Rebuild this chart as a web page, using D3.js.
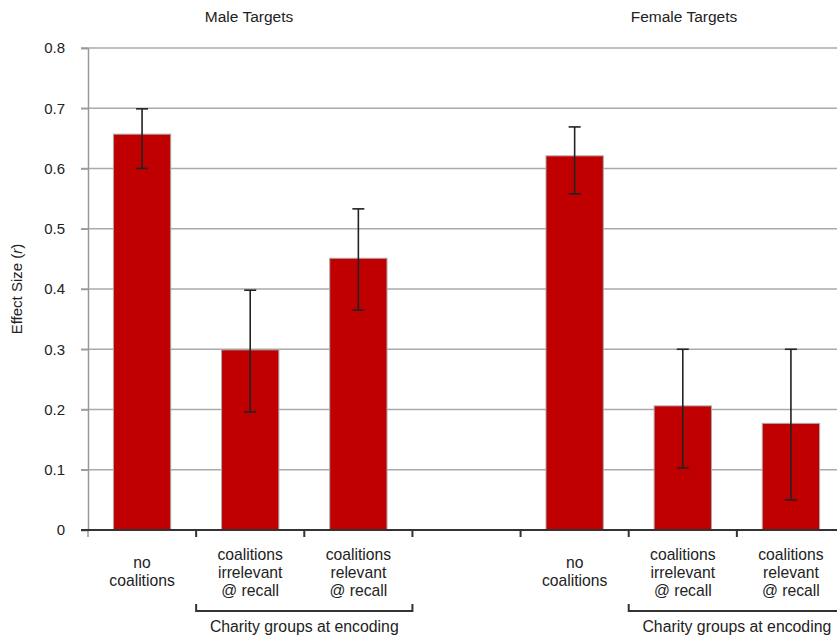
<!DOCTYPE html>
<html><head><meta charset="utf-8">
<script src="https://cdn.jsdelivr.net/npm/d3@7"></script>
<style>body{margin:0;background:#fff}svg{display:block}text{font-family:"Liberation Sans",Arial,sans-serif;fill:#222}</style>
</head><body>
<svg id="c" width="837" height="638"></svg>
<script>
// data
const slots = ["m0","m1","m2","gap","f0","f1","f2"];
const panels = ["Male Targets","Female Targets"];
const conditionLabels = [["no","coalitions"],["coalitions","irrelevant","@ recall"],["coalitions","relevant","@ recall"]];
const maleValues = [0.657, 0.299, 0.451];
const maleLow = [0.600, 0.196, 0.365];
const maleHigh = [0.699, 0.398, 0.533];
const femaleValues = [0.621, 0.206, 0.177];
const femaleLow = [0.558, 0.103, 0.050];
const femaleHigh = [0.669, 0.300, 0.300];
const yTicks = [0, 0.1, 0.2, 0.3, 0.4, 0.5, 0.6, 0.7, 0.8];
const groupLabel = "Charity groups at encoding";

const rows = [];
["m","f"].forEach((g,gi)=>{
  const v = gi===0?maleValues:femaleValues, lo = gi===0?maleLow:femaleLow, hi = gi===0?maleHigh:femaleHigh;
  v.forEach((d,i)=>rows.push({slot:g+i, value:d, lo:lo[i], hi:hi[i], label:conditionLabels[i]}));
});

const svg = d3.select("#c");
const x = d3.scaleBand().domain(slots).range([88, 845]).paddingInner(0.47).paddingOuter(0.235);
const y = d3.scaleLinear().domain([0, 0.8]).range([530, 48]);
const step = x.step();
const left = s => x(s) - x.paddingInner()*step/2;
const right = s => left(s) + step;

// gridlines
svg.append("g").selectAll("line").data(yTicks.filter(d=>d>0)).join("line")
  .attr("x1",81).attr("x2",845).attr("y1",d=>y(d)).attr("y2",d=>y(d))
  .attr("stroke","#aaa").attr("stroke-width",1.5);

// y axis
const ya = svg.append("g").attr("transform","translate(88,0)")
  .call(d3.axisLeft(y).tickValues(yTicks).tickFormat(d=>d===0?"0":d3.format(".1f")(d)).tickSize(7).tickPadding(16));
ya.select(".domain").attr("stroke","#999").attr("stroke-width",1.5);
ya.selectAll(".tick line").attr("stroke","#999").attr("stroke-width",1.5);
ya.selectAll(".tick text").attr("font-size",15).attr("font-family","Liberation Sans, Arial, sans-serif").attr("fill","#222");
svg.append("line").attr("x1",88).attr("x2",88).attr("y1",530).attr("y2",537).attr("stroke","#999").attr("stroke-width",1.5);

// bars
svg.append("g").selectAll("rect").data(rows).join("rect")
  .attr("x",d=>x(d.slot)).attr("width",x.bandwidth())
  .attr("y",d=>y(d.value)).attr("height",d=>y(0)-y(d.value))
  .attr("fill","#c00000").attr("stroke","#aaa").attr("stroke-width",1);

// error bars
const eb = svg.append("g").attr("stroke","#222").attr("stroke-width",1.6);
rows.forEach(d=>{
  const cx = x(d.slot)+x.bandwidth()/2;
  eb.append("line").attr("x1",cx).attr("x2",cx).attr("y1",y(d.hi)).attr("y2",y(d.lo));
  eb.append("line").attr("x1",cx-6).attr("x2",cx+6).attr("y1",y(d.hi)).attr("y2",y(d.hi));
  eb.append("line").attr("x1",cx-6).attr("x2",cx+6).attr("y1",y(d.lo)).attr("y2",y(d.lo));
});

// x axis
svg.append("line").attr("x1",81).attr("x2",845).attr("y1",530).attr("y2",530).attr("stroke","#333").attr("stroke-width",2);
svg.append("g").selectAll("line").data(slots.slice(1)).join("line")
  .attr("x1",d=>left(d)).attr("x2",d=>left(d)).attr("y1",530).attr("y2",537)
  .attr("stroke","#333").attr("stroke-width",2);

// category labels
rows.forEach(d=>{
  const cx = x(d.slot)+x.bandwidth()/2;
  const n = d.label.length;
  const t = svg.append("text").attr("text-anchor","middle").attr("font-size",15.7);
  d.label.forEach((s,i)=>{
    t.append("tspan").attr("x",cx).attr("y", (n===2?568:560) + i*18).text(s);
  });
});

// group brackets
["m","f"].forEach(g=>{
  const x0 = left(g+"1"), x1 = right(g+"2");
  svg.append("path").attr("d",`M${x0},604V611H${x1}V604`).attr("fill","none").attr("stroke","#333").attr("stroke-width",2);
  svg.append("text").attr("x",(x0+x1)/2).attr("y",632).attr("text-anchor","middle").attr("font-size",15.8).text(groupLabel);
});

// panel titles
["m","f"].forEach((g,i)=>{
  svg.append("text").attr("x", i===0?249:684).attr("y",22).attr("text-anchor","middle").attr("font-size",15.5).text(panels[i]);
});

// y label
const yl = svg.append("text").attr("transform","translate(22,289) rotate(-90)").attr("text-anchor","middle").attr("font-size",15);
yl.append("tspan").text("Effect Size (");
yl.append("tspan").attr("font-style","italic").text("r");
yl.append("tspan").text(")");
</script>
</body></html>
